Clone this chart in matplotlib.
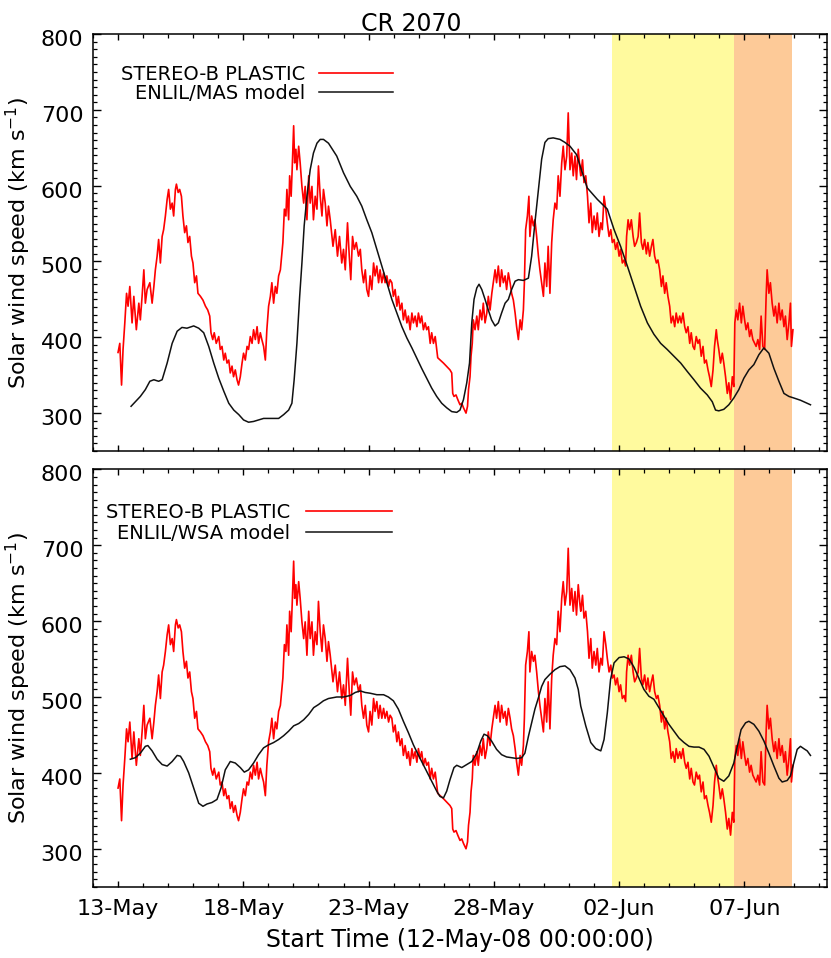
import numpy as np
import matplotlib
matplotlib.use('Agg')
import matplotlib.pyplot as plt
from matplotlib.ticker import MultipleLocator, FixedLocator
from matplotlib.transforms import ScaledTranslation

# days since 12-May-2008 00:00
red_day = [1.00, 1.07, 1.14, 1.20, 1.27, 1.34, 1.40, 1.47, 1.56, 1.63,
           1.73, 1.83, 1.89, 1.96, 2.03, 2.09, 2.16, 2.27, 2.36, 2.43,
           2.49, 2.56, 2.62, 2.69, 2.76, 2.82, 2.89, 2.96, 3.02, 3.09,
           3.16, 3.22, 3.29, 3.33, 3.40, 3.46, 3.53, 3.59, 3.66, 3.73,
           3.79, 3.86, 3.93, 3.99, 4.06, 4.13, 4.19, 4.29, 4.39, 4.49,
           4.58, 4.66, 4.71, 4.78, 4.84, 4.92, 5.02, 5.08, 5.15, 5.22,
           5.28, 5.35, 5.42, 5.48, 5.55, 5.61, 5.68, 5.75, 5.81, 5.88,
           5.95, 6.01, 6.08, 6.15, 6.21, 6.28, 6.35, 6.41, 6.48, 6.55,
           6.61, 6.68, 6.74, 6.81, 6.88, 6.94, 7.01, 7.08, 7.14, 7.21,
           7.28, 7.34, 7.41, 7.48, 7.54, 7.58, 7.64, 7.70, 7.74, 7.81,
           7.85, 7.91, 7.95, 8.01, 8.05, 8.10, 8.14, 8.21, 8.27, 8.34,
           8.41, 8.47, 8.54, 8.61, 8.67, 8.74, 8.80, 8.87, 8.94, 9.00,
           9.07, 9.14, 9.20, 9.27, 9.34, 9.40, 9.47, 9.58, 9.67, 9.76,
           9.84, 9.93, 10.00, 10.07, 10.16, 10.23, 10.29, 10.36, 10.43, 10.51,
           10.60, 10.67, 10.73, 10.80, 10.87, 10.93, 11.00, 11.06, 11.13, 11.20,
           11.26, 11.33, 11.40, 11.46, 11.53, 11.60, 11.66, 11.73, 11.80, 11.86,
           11.93, 11.99, 12.06, 12.13, 12.19, 12.26, 12.33, 12.39, 12.46, 12.53,
           12.59, 12.66, 12.73, 12.79, 12.86, 12.93, 12.99, 13.06, 13.12, 13.19,
           13.26, 13.32, 13.39, 13.46, 13.52, 13.59, 13.66, 13.72, 13.76, 13.99,
           14.25, 14.32, 14.36, 14.41, 14.49, 14.56, 14.65, 14.72, 14.79, 14.89,
           14.95, 14.99, 15.05, 15.09, 15.14, 15.18, 15.25, 15.32, 15.38, 15.45,
           15.52, 15.58, 15.65, 15.72, 15.78, 15.85, 15.92, 15.98, 16.05, 16.11,
           16.18, 16.25, 16.31, 16.38, 16.45, 16.51, 16.58, 16.65, 16.71, 16.78,
           16.85, 16.91, 16.98, 17.05, 17.11, 17.18, 17.22, 17.27, 17.34, 17.40,
           17.44, 17.51, 17.58, 17.64, 17.71, 17.78, 17.84, 17.91, 17.98, 18.04,
           18.11, 18.17, 18.24, 18.31, 18.37, 18.44, 18.51, 18.57, 18.64, 18.71,
           18.77, 18.84, 18.91, 18.97, 19.04, 19.11, 19.17, 19.24, 19.30, 19.37,
           19.44, 19.47, 19.54, 19.60, 19.67, 19.74, 19.80, 19.87, 19.93, 20.00,
           20.07, 20.13, 20.20, 20.27, 20.33, 20.40, 20.47, 20.53, 20.60, 20.67,
           20.73, 20.80, 20.86, 20.93, 21.00, 21.06, 21.13, 21.20, 21.26, 21.30,
           21.36, 21.42, 21.49, 21.56, 21.62, 21.69, 21.76, 21.82, 21.89, 21.95,
           22.02, 22.09, 22.15, 22.22, 22.29, 22.35, 22.42, 22.49, 22.55, 22.62,
           22.69, 22.75, 22.82, 22.88, 22.95, 23.02, 23.08, 23.15, 23.22, 23.28,
           23.35, 23.42, 23.48, 23.55, 23.62, 23.68, 23.75, 23.82, 23.88, 23.95,
           24.01, 24.08, 24.15, 24.21, 24.28, 24.35, 24.41, 24.48, 24.55, 24.61,
           24.68, 24.75, 24.81, 24.88, 24.92, 24.98, 25.05, 25.12, 25.18, 25.25,
           25.32, 25.38, 25.45, 25.52, 25.58, 25.62, 25.68, 25.74, 25.81, 25.88,
           25.94, 26.01, 26.07, 26.14, 26.21, 26.27, 26.34, 26.41, 26.47, 26.54,
           26.61, 26.67, 26.74, 26.81, 26.87, 26.91, 26.98, 27.04, 27.11, 27.18,
           27.24, 27.31, 27.38, 27.44, 27.51, 27.58, 27.64, 27.71, 27.78, 27.84,
           27.88, 27.94]
red_speed = [380, 392, 337, 384, 419, 458, 441, 467, 419, 454,
             410, 445, 423, 454, 489, 445, 463, 472, 445, 467,
             489, 507, 529, 498, 533, 542, 560, 582, 595, 569,
             577, 560, 595, 602, 591, 595, 586, 560, 538, 547,
             525, 533, 507, 498, 472, 481, 458, 454, 449, 441,
             436, 428, 406, 397, 406, 392, 401, 384, 388, 370,
             379, 366, 370, 353, 362, 348, 357, 344, 337, 348,
             366, 379, 370, 388, 384, 401, 392, 410, 397, 414,
             392, 406, 397, 388, 370, 410, 441, 454, 472, 445,
             467, 458, 481, 489, 511, 525, 569, 560, 595, 555,
             613, 586, 621, 679, 630, 648, 621, 652, 630, 599,
             577, 599, 555, 613, 577, 599, 555, 586, 569, 626,
             586, 560, 595, 577, 547, 573, 555, 520, 542, 507,
             533, 498, 516, 489, 551, 507, 476, 533, 516, 525,
             507, 516, 489, 472, 489, 463, 454, 481, 463, 498,
             481, 494, 472, 489, 472, 485, 472, 481, 467, 476,
             472, 454, 463, 441, 454, 436, 445, 423, 436, 419,
             428, 410, 432, 419, 428, 414, 432, 419, 428, 410,
             419, 410, 414, 392, 406, 392, 401, 384, 373, 366,
             357, 353, 326, 322, 324, 318, 311, 313, 307, 300,
             309, 331, 348, 375, 392, 423, 410, 428, 410, 436,
             423, 445, 419, 432, 454, 436, 458, 472, 489, 472,
             494, 467, 489, 472, 481, 463, 485, 472, 458, 449,
             432, 414, 397, 423, 410, 436, 472, 542, 560, 586,
             533, 560, 547, 555, 533, 507, 489, 472, 454, 498,
             467, 520, 458, 525, 555, 577, 569, 613, 586, 630,
             652, 621, 639, 696, 621, 643, 613, 639, 608, 648,
             621, 613, 634, 604, 613, 586, 551, 577, 538, 560,
             542, 564, 533, 551, 542, 586, 569, 551, 533, 542,
             525, 529, 516, 525, 507, 516, 498, 502, 494, 533,
             555, 542, 555, 533, 520, 525, 533, 564, 525, 516,
             529, 510, 525, 507, 520, 529, 507, 498, 502, 489,
             467, 481, 458, 472, 454, 441, 419, 428, 414, 432,
             419, 428, 419, 432, 414, 406, 414, 392, 406, 388,
             384, 401, 392, 397, 375, 388, 366, 370, 357, 348,
             335, 357, 388, 410, 397, 384, 366, 379, 366, 348,
             326, 340, 318, 348, 335, 419, 436, 423, 445, 419,
             441, 423, 410, 419, 401, 410, 397, 392, 388, 397,
             384, 428, 388, 384, 454, 489, 458, 472, 445, 428,
             441, 419, 445, 423, 436, 414, 428, 397, 419, 445,
             388, 410]

mas_day = [1.52, 1.69, 1.89, 2.09, 2.27, 2.43, 2.62, 2.76, 2.96, 3.16,
           3.36, 3.55, 3.75, 4.02, 4.22, 4.42, 4.62, 4.82, 5.02, 5.22,
           5.42, 5.62, 5.82, 6.01, 6.21, 6.41, 6.61, 6.81, 7.01, 7.21,
           7.41, 7.61, 7.81, 7.94, 8.03, 8.14, 8.25, 8.34, 8.43, 8.54,
           8.67, 8.80, 8.94, 9.07, 9.20, 9.40, 9.73, 10.00, 10.27, 10.53,
           10.73, 10.93, 11.13, 11.33, 11.53, 11.73, 11.93, 12.13, 12.33, 12.53,
           12.73, 12.92, 13.12, 13.32, 13.52, 13.72, 13.92, 14.12, 14.32, 14.52,
           14.65, 14.79, 14.92, 15.03, 15.12, 15.21, 15.32, 15.41, 15.52, 15.65,
           15.78, 15.91, 16.05, 16.18, 16.31, 16.45, 16.58, 16.71, 16.85, 16.98,
           17.18, 17.38, 17.51, 17.64, 17.78, 17.91, 18.04, 18.17, 18.37, 18.64,
           18.84, 19.04, 19.30, 19.73, 20.13, 20.53, 20.80, 21.06, 21.33, 21.60,
           21.86, 22.13, 22.39, 22.66, 22.92, 23.19, 23.46, 23.72, 23.99, 24.25,
           24.52, 24.72, 24.85, 24.98, 25.18, 25.38, 25.58, 25.78, 25.98, 26.18,
           26.38, 26.58, 26.78, 26.98, 27.18, 27.38, 27.58, 27.78, 27.97, 28.24,
           28.44, 28.64]
mas_speed = [309, 315, 322, 331, 342, 344, 342, 344, 366, 392,
             408, 413, 412, 415, 412, 406, 388, 366, 346, 329,
             313, 304, 298, 291, 288, 289, 291, 293, 293, 293,
             293, 298, 304, 313, 344, 392, 454, 498, 547, 586,
             621, 643, 656, 661, 661, 656, 639, 617, 599, 586,
             573, 555, 538, 516, 494, 472, 450, 432, 414, 399,
             386, 373, 359, 346, 333, 322, 313, 307, 302, 301,
             304, 318, 340, 366, 419, 450, 465, 470, 463, 450,
             436, 423, 415, 419, 432, 445, 450, 463, 474, 476,
             475, 478, 507, 551, 595, 635, 657, 662, 663, 661,
             657, 652, 641, 597, 582, 569, 542, 520, 494, 467,
             441, 419, 404, 392, 384, 375, 366, 355, 344, 333,
             324, 315, 304, 303, 305, 311, 320, 331, 346, 357,
             364, 377, 386, 379, 359, 342, 326, 322, 320, 317,
             314, 311]

wsa_day = [1.49, 1.69, 1.89, 2.09, 2.19, 2.36, 2.56, 2.76, 2.96, 3.16,
           3.36, 3.49, 3.62, 3.82, 4.02, 4.22, 4.39, 4.55, 4.75, 4.95,
           5.11, 5.28, 5.48, 5.68, 5.88, 6.04, 6.21, 6.41, 6.61, 6.81,
           7.01, 7.21, 7.41, 7.61, 7.81, 8.01, 8.21, 8.41, 8.61, 8.81,
           9.00, 9.20, 9.40, 9.73, 10.00, 10.27, 10.47, 10.67, 10.86, 11.06,
           11.33, 11.60, 11.79, 11.99, 12.19, 12.39, 12.59, 12.79, 12.95, 13.12,
           13.32, 13.52, 13.72, 13.85, 13.99, 14.12, 14.25, 14.41, 14.52, 14.72,
           14.92, 15.12, 15.32, 15.48, 15.61, 15.74, 15.91, 16.11, 16.31, 16.51,
           16.71, 16.91, 17.11, 17.24, 17.38, 17.51, 17.64, 17.78, 17.91, 18.04,
           18.24, 18.44, 18.64, 18.84, 19.04, 19.24, 19.37, 19.47, 19.67, 19.87,
           20.07, 20.27, 20.40, 20.53, 20.66, 20.80, 21.00, 21.20, 21.40, 21.60,
           21.79, 21.99, 22.19, 22.39, 22.59, 22.79, 22.99, 23.19, 23.39, 23.59,
           23.79, 23.99, 24.19, 24.39, 24.59, 24.79, 24.98, 25.18, 25.38, 25.58,
           25.72, 25.87, 26.05, 26.18, 26.38, 26.58, 26.78, 26.98, 27.18, 27.38,
           27.51, 27.71, 27.84, 27.97, 28.11, 28.24, 28.37, 28.51, 28.64]
wsa_speed = [418, 420, 426, 435, 436, 429, 418, 411, 409, 415,
             423, 422, 415, 400, 380, 360, 356, 359, 361, 365,
             380, 404, 415, 413, 407, 401, 404, 413, 424, 433,
             437, 440, 444, 449, 455, 462, 465, 470, 477, 486,
             490, 495, 498, 500, 500, 502, 506, 508, 506, 505,
             503, 503, 500, 495, 484, 468, 453, 437, 426, 415,
             402, 389, 376, 369, 367, 376, 391, 407, 410, 407,
             411, 415, 426, 442, 451, 449, 442, 431, 424, 421,
             420, 419, 420, 426, 448, 466, 484, 499, 514, 523,
             530, 536, 540, 541, 536, 525, 510, 488, 462, 440,
             432, 429, 444, 479, 523, 545, 552, 553, 550, 539,
             525, 510, 501, 497, 486, 475, 464, 455, 446, 440,
             435, 434, 434, 431, 422, 407, 393, 389, 396, 413,
             435, 457, 466, 468, 464, 455, 442, 426, 409, 393,
             388, 390, 396, 413, 431, 435, 432, 429, 423]

tick_days = [1, 6, 11, 16, 21, 26]
tick_labels = ['13-May', '18-May', '23-May', '28-May', '02-Jun', '07-Jun']
yellow_span = (20.72, 25.58)
orange_span = (25.58, 27.92)

plt.rcParams['font.family'] = 'DejaVu Sans'
fig = plt.figure(figsize=(8.31, 9.58), dpi=100)
ax1 = fig.add_axes([0.1119, 0.5292, 0.8833, 0.4353])
ax2 = fig.add_axes([0.1119, 0.0744, 0.8833, 0.4357])

panels = [(ax1, mas_day, mas_speed, 'ENLIL/MAS model'),
          (ax2, wsa_day, wsa_speed, 'ENLIL/WSA model')]
label_shift = ScaledTranslation(0, -4 / 100, fig.dpi_scale_trans)

for ax, mday, mspeed, mname in panels:
    ax.axvspan(*yellow_span, color='#fffa9e', lw=0, zorder=0)
    ax.axvspan(*orange_span, color='#fdca98', lw=0, zorder=0)
    ax.plot(red_day, red_speed, color='red', lw=1.2, label='STEREO-B PLASTIC')
    ax.plot(mday, mspeed, color='#111111', lw=1.1, label=mname)
    ax.set_xlim(0, 29.3)
    ax.set_ylim(250, 800)
    ax.xaxis.set_major_locator(FixedLocator(tick_days))
    ax.xaxis.set_minor_locator(MultipleLocator(1))
    ax.yaxis.set_major_locator(MultipleLocator(100))
    ax.yaxis.set_minor_locator(MultipleLocator(10))
    ax.tick_params(which='both', direction='in', top=True, right=True, labelsize=16)
    ax.tick_params(axis='y', which='major', length=5.5, width=1, pad=7)
    ax.tick_params(axis='y', which='minor', length=3, width=0.9)
    ax.tick_params(axis='x', which='major', length=4, width=1, pad=9)
    ax.tick_params(axis='x', which='minor', length=2.8, width=0.9)
    for s in ax.spines.values():
        s.set_linewidth(1.1)
    ax.set_ylabel('Solar wind speed (km s$^{-1}$)', fontsize=16)
    ax.yaxis.set_label_coords(-0.082, 0.5)
    for lab in ax.get_yticklabels():
        lab.set_transform(lab.get_transform() + label_shift)

ax1.legend(loc='upper right', bbox_to_anchor=(0.409, 0.925), frameon=False,
           markerfirst=False, fontsize=14, handlelength=3.8, handletextpad=0.7,
           labelspacing=0.0, borderpad=0, borderaxespad=0)
ax2.legend(loc='upper right', bbox_to_anchor=(0.407, 0.92), frameon=False,
           markerfirst=False, fontsize=14, handlelength=4.4, handletextpad=0.8,
           labelspacing=0.1, borderpad=0, borderaxespad=0)

ax1.set_xticklabels([])
ax2.set_xticks(tick_days)
ax2.set_xticklabels(tick_labels)
ax2.set_xlabel('Start Time (12-May-08 00:00:00)', fontsize=17)
ax2.xaxis.set_label_coords(0.5, -0.098)
fig.text(0.495, 0.987, 'CR 2070', fontsize=17, ha='center', va='top')

fig.savefig('out.png', dpi=100)
